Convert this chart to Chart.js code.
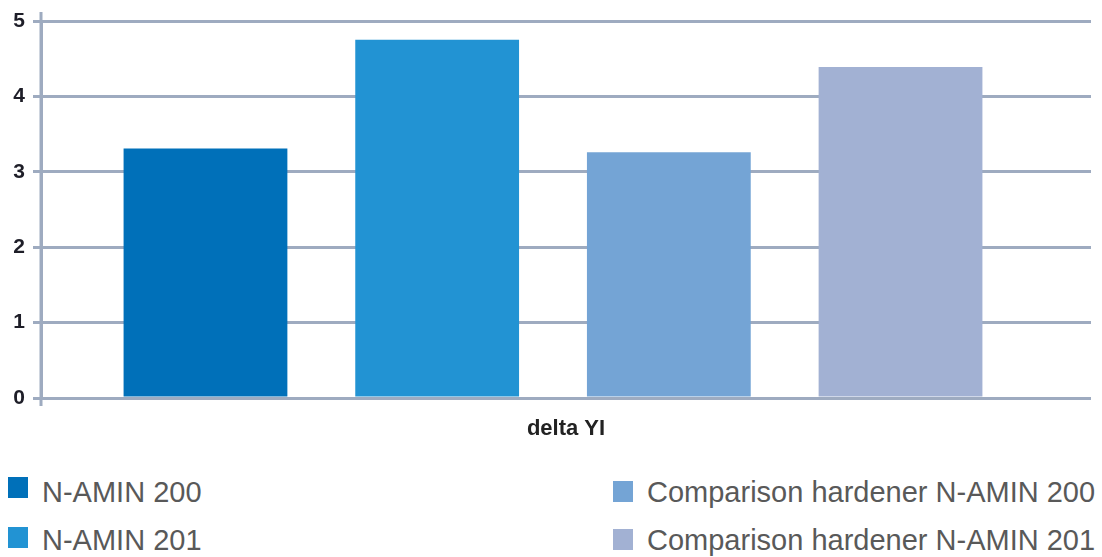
<!DOCTYPE html>
<html>
<head>
<meta charset="utf-8">
<script src="https://cdn.jsdelivr.net/npm/chart.js@4.4.1/dist/chart.umd.min.js"></script>
<style>
  html, body { margin: 0; padding: 0; background: #fff; }
  #wrap { position: relative; width: 1102px; height: 557px; }
  #chartBox { position: absolute; left: 0; top: 0; width: 1102px; height: 440px; }
  .legend-item { position: absolute; font-family: "Liberation Sans", Arial, sans-serif; font-size: 29px; color: #595959; white-space: nowrap; line-height: 30px; height: 30px; }
  .legend-box { position: absolute; width: 20px; height: 21px; left: 0; }
  .legend-text { position: absolute; left: 34px; top: 0; }
</style>
</head>
<body>
<div id="wrap">
  <div id="chartBox"><canvas id="barChart"></canvas></div>
  <div id="legend"></div>
</div>
<script>
// --- Data ---
const categories = ["delta YI"];
const seriesNames = ["N-AMIN 200", "N-AMIN 201", "Comparison hardener N-AMIN 200", "Comparison hardener N-AMIN 201"];
const seriesValues = [3.31, 4.75, 3.26, 4.39];
const seriesColors = ["#0070b9", "#2293d3", "#74a4d5", "#a2b1d3"];
const yTicks = [0, 1, 2, 3, 4, 5];

const gridColor = "#9eabc0";
const fontFamily = "'Liberation Sans', Arial, sans-serif";

// --- Legend (two columns, HTML) ---
const legendPos = [
  { left: 8, top: 477, box: 0 }, { left: 8, top: 525, box: 2 },
  { left: 613, top: 477, box: 4 }, { left: 613, top: 525, box: 4 }
];
const legendEl = document.getElementById("legend");
seriesNames.forEach((name, i) => {
  const item = document.createElement("div");
  item.className = "legend-item";
  item.style.left = legendPos[i].left + "px";
  item.style.top = legendPos[i].top + "px";
  item.innerHTML = `<span class="legend-box" style="top:${legendPos[i].box}px;background:${seriesColors[i]}"></span><span class="legend-text">${name}</span>`;
  legendEl.appendChild(item);
});

// --- Bars in the original sit a bit left of centre: shrink the x range on the right ---
const shiftBars = {
  id: "shiftBars",
  afterLayout(chart) {
    const x = chart.scales.x;
    x.right -= 26;
    x.width -= 26;
    x.configure();
  }
};

// --- Extend the y axis line a little past the plot, like the original ---
const axisExtend = {
  id: "axisExtend",
  afterDraw(chart) {
    const { ctx, chartArea } = chart;
    ctx.save();
    ctx.strokeStyle = gridColor;
    ctx.lineWidth = 3;
    ctx.beginPath();
    ctx.moveTo(chartArea.left, chartArea.top - 9);
    ctx.lineTo(chartArea.left, chartArea.bottom + 8);
    ctx.stroke();
    ctx.restore();
  }
};

new Chart(document.getElementById("barChart"), {
  type: "bar",
  data: {
    labels: categories,
    datasets: seriesNames.map((name, i) => ({
      label: name,
      data: [seriesValues[i]],
      backgroundColor: seriesColors[i],
      categoryPercentage: 0.905,
      barPercentage: 0.707
    }))
  },
  options: {
    responsive: true,
    maintainAspectRatio: false,
    animation: false,
    layout: { padding: { top: 21, right: 11, left: 0, bottom: 0 } },
    plugins: {
      legend: { display: false },
      tooltip: { enabled: false }
    },
    scales: {
      x: {
        grid: { display: false },
        border: { display: false },
        ticks: {
          padding: 10,
          labelOffset: 13,
          color: "#222",
          font: { family: fontFamily, size: 22, weight: "bold" }
        },
        afterFit: scale => { scale.height = 42; }
      },
      y: {
        min: 0,
        max: 5,
        afterBuildTicks: scale => { scale.ticks = yTicks.map(v => ({ value: v })); },
        grid: { color: gridColor, lineWidth: 3, tickLength: 8, drawTicks: true },
        border: { display: true, color: gridColor, width: 3 },
        ticks: {
          padding: 8,
          color: "#1e1e28",
          font: { family: fontFamily, size: 21, weight: "bold" }
        },
        afterFit: scale => { scale.width = 41; }
      }
    }
  },
  plugins: [shiftBars, axisExtend]
});
</script>
</body>
</html>
